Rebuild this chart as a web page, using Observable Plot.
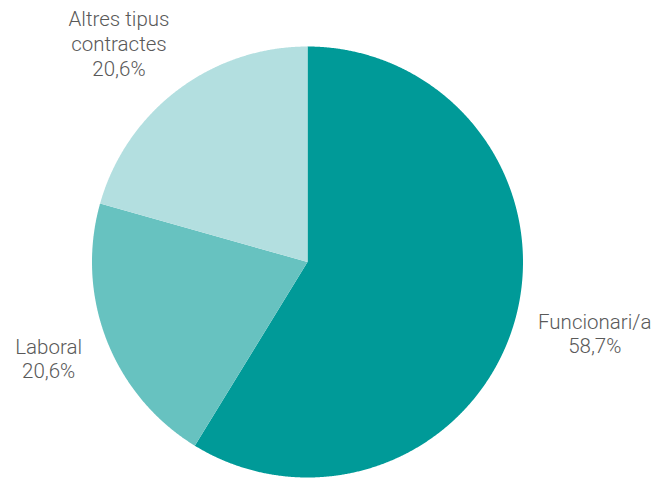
<!DOCTYPE html>
<html>
<head>
<meta charset="utf-8">
<script src="https://cdn.jsdelivr.net/npm/d3@7"></script>
<script src="https://cdn.jsdelivr.net/npm/@observablehq/plot@0.6"></script>
<style>
  html, body { margin: 0; padding: 0; background: #fff; }
  #chart svg { display: block; }
</style>
</head>
<body>
<div id="chart"></div>
<script>
const categories = ["Funcionari/a", "Laboral", "Altres tipus contractes"];
const values = [58.7, 20.6, 20.6];
const labelLines = [["Funcionari/a"], ["Laboral"], ["Altres tipus", "contractes"]];
const colors = ["#009a98", "#67c2c0", "#b3dfe0"];

const W = 654, H = 479;
const cx = 307, cy = 261.5, R = 215.5;

const total = d3.sum(values);
let acc = 0;
const slices = categories.map((c, i) => {
  const a0 = acc / total * 2 * Math.PI;
  acc += values[i];
  const a1 = acc / total * 2 * Math.PI;
  return {cat: c, value: values[i], a0, a1, mid: (a0 + a1) / 2, i};
});

// polygon points for each slice (angle measured clockwise from top)
const pts = [];
for (const s of slices) {
  pts.push({cat: s.cat, x: 0, y: 0});
  const n = Math.max(2, Math.ceil((s.a1 - s.a0) / (Math.PI / 720)));
  for (let k = 0; k <= n; k++) {
    const a = s.a0 + (s.a1 - s.a0) * k / n;
    pts.push({cat: s.cat, x: Math.sin(a), y: Math.cos(a)});
  }
}

const fmt = v => v.toFixed(1).replace(".", ",") + "%";
const nudgePx = {"Funcionari/a": [28, -2], "Laboral": [-8, -2], "Altres tipus contractes": [-26, -4]};
const labelR = 1.25;
const labels = slices.map(s => ({
  cat: s.cat,
  text: labelLines[s.i].concat([fmt(s.value)]).join("\n"),
  x: labelR * Math.sin(s.mid) + nudgePx[s.cat][0] / R,
  y: labelR * Math.cos(s.mid) - nudgePx[s.cat][1] / R
}));

const chart = Plot.plot({
  width: W,
  height: H,
  marginLeft: cx - R,
  marginRight: W - (cx + R),
  marginTop: cy - R,
  marginBottom: H - (cy + R),
  x: {domain: [-1, 1], axis: null},
  y: {domain: [-1, 1], axis: null},
  color: {domain: categories, range: colors},
  marks: [
    Plot.line(pts, {x: "x", y: "y", z: "cat", fill: "cat", stroke: "none", curve: "linear", clip: false}),
    Plot.text(labels, {
      x: "x", y: "y", text: "text",
      fontSize: 20.5, lineHeight: 1.2,
      fill: "#595959",
      fontFamily: "Roboto, 'Liberation Sans', sans-serif",
      fontWeight: 300,
      textAnchor: "middle",
      clip: false
    })
  ],
  style: {overflow: "visible", background: "#fff"}
});
document.getElementById("chart").appendChild(chart);
</script>
</body>
</html>
